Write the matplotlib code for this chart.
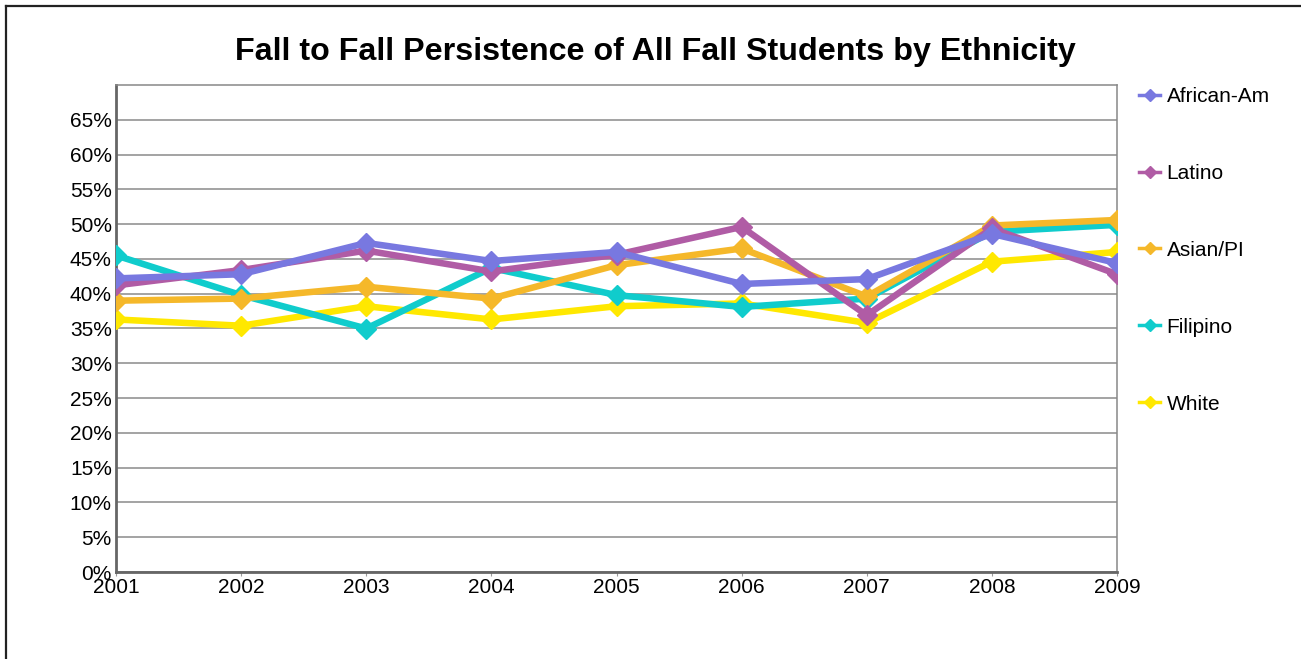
import matplotlib
matplotlib.use("Agg")
import matplotlib.pyplot as plt
import matplotlib.ticker as mtick
from matplotlib.lines import Line2D

plt.rcParams['font.family'] = ['Liberation Sans', 'DejaVu Sans']

years = [2001, 2002, 2003, 2004, 2005, 2006, 2007, 2008, 2009]
names = ['African-Am', 'Latino', 'Asian/PI', 'Filipino', 'White']
african_am = [42.2, 42.8, 47.3, 44.7, 46.0, 41.4, 42.1, 48.6, 44.4]
latino = [41.2, 43.4, 46.2, 43.2, 45.6, 49.6, 36.9, 49.4, 42.8]
asian_pi = [39.0, 39.3, 41.0, 39.3, 44.1, 46.5, 39.6, 49.8, 50.6]
filipino = [45.5, 39.8, 35.0, 43.7, 39.8, 38.1, 39.3, 48.9, 49.9]
white = [36.3, 35.4, 38.2, 36.3, 38.2, 38.6, 35.8, 44.6, 46.0]
colors = ['#7878E0', '#B05CA5', '#F5B82A', '#10CCCC', '#FFE800']

series = [african_am, latino, asian_pi, filipino, white]

W, H = 1301, 659
fig = plt.figure(figsize=(W / 100, H / 100), dpi=100)
ax = fig.add_axes([116 / W, 1 - 572 / H, (1117 - 116) / W, (572 - 85) / H])

# draw in reverse so the first series ends up on top
for k in range(len(series) - 1, -1, -1):
    vals = [v / 100 for v in series[k]]
    ax.plot(years, vals, color=colors[k], lw=4.7, marker='D', markersize=10,
            solid_joinstyle='miter', zorder=3 + (len(series) - k))

ax.set_xlim(2001, 2009)
ax.set_ylim(0, 0.70)
ax.set_xticks(years)
ax.set_yticks([i * 0.05 for i in range(14)])
ax.yaxis.set_major_formatter(mtick.FuncFormatter(lambda v, p: '%d%%' % round(v * 100)))
ax.tick_params(axis='y', length=0, pad=3, labelsize=15)
ax.tick_params(axis='x', length=3, color='#999999', pad=1, labelsize=15)
ax.grid(axis='y', color='#8a8a8a', lw=1.1)
ax.set_axisbelow(True)
for s in ['left', 'bottom']:
    ax.spines[s].set_color('#666666')
    ax.spines[s].set_linewidth(2)
for s in ['top', 'right']:
    ax.spines[s].set_color('#888888')
    ax.spines[s].set_linewidth(1.1)

handles = [Line2D([0], [0], color=c, lw=2.5, marker='D', markersize=6) for c in colors]
fig.legend(handles, names, loc='upper left', bbox_to_anchor=(1129 / W, 1 - 76.5 / H),
           frameon=False, fontsize=15, labelspacing=2.78, handlelength=1.0,
           handletextpad=0.3, borderpad=0)

fig.text(655 / W, 1 - 52 / H, 'Fall to Fall Persistence of All Fall Students by Ethnicity',
         ha='center', va='center', fontsize=23.2, fontweight='bold')

# outer frame (left and top edges visible)
fig.add_artist(Line2D([5.5 / W, 5.5 / W], [0, 1 - 5.5 / H], color='#222222', lw=1.6,
                      transform=fig.transFigure))
fig.add_artist(Line2D([5.5 / W, 1], [1 - 5.5 / H, 1 - 5.5 / H], color='#222222', lw=1.6,
                      transform=fig.transFigure))

fig.savefig('out.png', dpi=100)
